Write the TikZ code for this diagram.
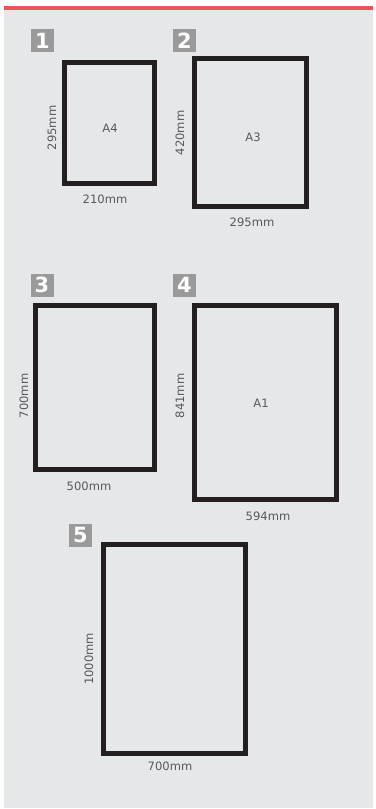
\documentclass[tikz,border=0pt]{standalone}
\usepackage{fontspec}
\setmainfont{DejaVu Sans}
\usetikzlibrary{calc}
\definecolor{pgaccent}{HTML}{E8555A}
\definecolor{pgpanel}{HTML}{E6E7E9}
\definecolor{pgframe}{HTML}{231F20}
\definecolor{pgbadge}{HTML}{9A9A9B}
\definecolor{pgtext}{HTML}{58595B}
\tikzset{
  every picture/.style={font=\fontsize{11.6}{13}\selectfont,text=pgtext},
  sheet/.style={draw=pgframe,line width=5bp,inner sep=0pt},
  badge/.style={fill=pgbadge,text=white,minimum size=23bp,inner sep=0pt,
    font=\bfseries\fontsize{21}{21}\selectfont},
  dimlabel/.style={inner sep=0pt},
  sizename/.style={inner sep=0pt},
}

\begin{document}
\begin{tikzpicture}[x=1bp,y=-1bp]
  % panel and accent rule
  \fill[white] (0,0) rectangle (375,809);
  \fill[pgpanel] (4,10) rectangle (373,808);
  \fill[pgaccent] (4,6) rectangle (373,10);
  % sheets, drawn to scale
  \node[sheet,minimum width=90bp,minimum height=121bp] (p1) at (109.5,123) {};
  \node[sheet,minimum width=112bp,minimum height=148bp] (p2) at (250.5,132.5) {};
  \node[sheet,minimum width=119bp,minimum height=164bp] (p3) at (95,387.5) {};
  \node[sheet,minimum width=142bp,minimum height=194bp] (p4) at (265.5,402.5) {};
  \node[sheet,minimum width=142bp,minimum height=209bp] (p5) at (174.5,649) {};
  % numbers
  \node[badge] (b1) at (42.5,40.5) {1};
  \node[badge] (b2) at (184.5,40.5) {2};
  \node[badge] (b3) at (42,285) {3};
  \node[badge] (b4) at (184.5,285) {4};
  \node[badge] (b5) at (80.5,535.5) {5};
  % heights
  \node[dimlabel,rotate=90] (h1) at ($(p1.west)+(-10,5)$) {295mm};
  \node[dimlabel,rotate=90] (h2) at ($(p2.west)+(-12,0.5)$) {420mm};
  \node[dimlabel,rotate=90] (h3) at ($(p3.west)+(-9,8.5)$) {700mm};
  \node[dimlabel,rotate=90] (h4) at ($(p4.west)+(-12,-6.5)$) {841mm};
  \node[dimlabel,rotate=90] (h5) at ($(p5.west)+(-12,10)$) {1000mm};
  % widths
  \node[dimlabel] (w1) at ($(p1.south)+(-4.5,13)$) {210mm};
  \node[dimlabel] (w2) at ($(p2.south)+(1.5,13)$) {295mm};
  \node[dimlabel] (w3) at ($(p3.south)+(-6,14)$) {500mm};
  \node[dimlabel] (w4) at ($(p4.south)+(2.5,14)$) {594mm};
  \node[dimlabel] (w5) at ($(p5.south)+(-4.5,10)$) {700mm};
  % format names
  \node[sizename] (n1) at ($(p1.center)+(0.5,5)$) {A4};
  \node[sizename] (n2) at ($(p2.center)+(2.5,4.5)$) {A3};
  \node[sizename] (n4) at ($(p4.center)+(-4.5,0.5)$) {A1};
  \path[use as bounding box] (0,0) rectangle (375,809);
\end{tikzpicture}
\end{document}
